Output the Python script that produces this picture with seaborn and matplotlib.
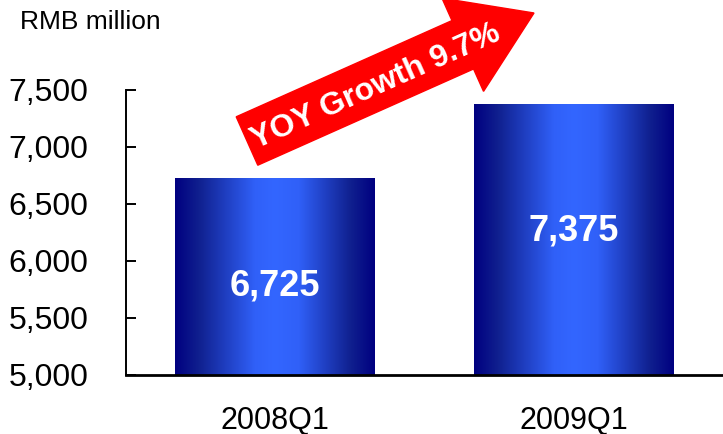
import numpy as np
import matplotlib
matplotlib.use("Agg")
import matplotlib.pyplot as plt
import matplotlib.colors as mcolors
from matplotlib.patches import FancyArrow
import seaborn as sns
import pandas as pd

# data
quarters = ["2008Q1", "2009Q1"]
revenue = [6725, 7375]
value_labels = ["6,725", "7,375"]
growth_label = "YOY Growth 9.7%"
y_ticks = [5000, 5500, 6000, 6500, 7000, 7500]

sns.set_style("white")
plt.rcParams['font.family'] = ['Liberation Sans', 'DejaVu Sans']

df = pd.DataFrame({"quarter": quarters, "revenue": revenue})

fig = plt.figure(figsize=(7.23, 4.34), dpi=100)
ax = fig.add_axes([0.1743, 0.136, 0.8257, 0.6567])

sns.barplot(data=df, x="quarter", y="revenue", ax=ax, width=0.67,
            color="#3366ff", edgecolor="none")

ymin, ymax = 5000, 7500
ax.set_xlim(-0.5, 1.5)
ax.set_ylim(ymin, ymax)
ax.set_yticks(y_ticks)
ax.set_yticklabels([f"{v:,}" for v in y_ticks])
ax.set_xlabel("")
ax.set_ylabel("")

# horizontal gradient: navy at the edges, bright blue in the middle
grad_cmap = mcolors.LinearSegmentedColormap.from_list(
    "bar_grad", [(0.0, "#000080"), (0.12, "#10208f"), (0.4, "#3060f8"),
                 (0.5, "#3366ff"), (0.62, "#3060f8"), (0.88, "#10208f"),
                 (1.0, "#000080")])
gradient = np.linspace(0, 1, 256).reshape(1, -1)
for patch in list(ax.patches):
    x0 = patch.get_x()
    w = patch.get_width()
    top = patch.get_y() + patch.get_height()
    ax.imshow(gradient, cmap=grad_cmap, aspect="auto",
              extent=[x0, x0 + w, ymin, top], zorder=2)
    patch.set_visible(False)
ax.set_xlim(-0.5, 1.5)
ax.set_ylim(ymin, ymax)

# value labels sit a little off the bar middle, as in the source
label_frac = [0.45, 0.53]
for i, (v, lab) in enumerate(zip(revenue, value_labels)):
    ax.text(i, ymin + (v - ymin) * label_frac[i], lab, ha="center",
            va="center", color="white", fontsize=26, fontweight="bold",
            zorder=3)

sns.despine(ax=ax, top=True, right=True)
ax.spines["left"].set_color("black")
ax.spines["left"].set_linewidth(1.4)
ax.spines["bottom"].set_color("black")
ax.spines["bottom"].set_linewidth(2)
ax.spines["left"].set_zorder(4)
ax.spines["bottom"].set_zorder(4)
ax.tick_params(axis="y", direction="in", length=7, width=1.4, left=True,
               labelsize=23, pad=27, colors="black")
ax.tick_params(axis="x", length=0, labelsize=22, pad=22, colors="black")

fig.text(20 / 723, 1 - 22 / 434, "RMB million", fontsize=19, ha="left",
         va="center", color="black")

# red growth arrow, drawn in inches (figure dpi 100)
tail = (247 / 100, (434 - 141) / 100)
tip = (534 / 100, (434 - 13) / 100)
dx, dy = tip[0] - tail[0], tip[1] - tail[1]
arrow = FancyArrow(tail[0], tail[1], dx, dy, width=0.53, head_width=1.02,
                   head_length=0.78, length_includes_head=True,
                   color="#ff0000", transform=fig.dpi_scale_trans,
                   clip_on=False, zorder=5)
fig.add_artist(arrow)
angle = np.degrees(np.arctan2(dy, dx))
fig.text(376 / 723, 1 - 87 / 434, growth_label, rotation=angle,
         rotation_mode="anchor", ha="center", va="center", color="white",
         fontsize=23, fontweight="bold", zorder=6)

fig.savefig("out.png", dpi=100)
